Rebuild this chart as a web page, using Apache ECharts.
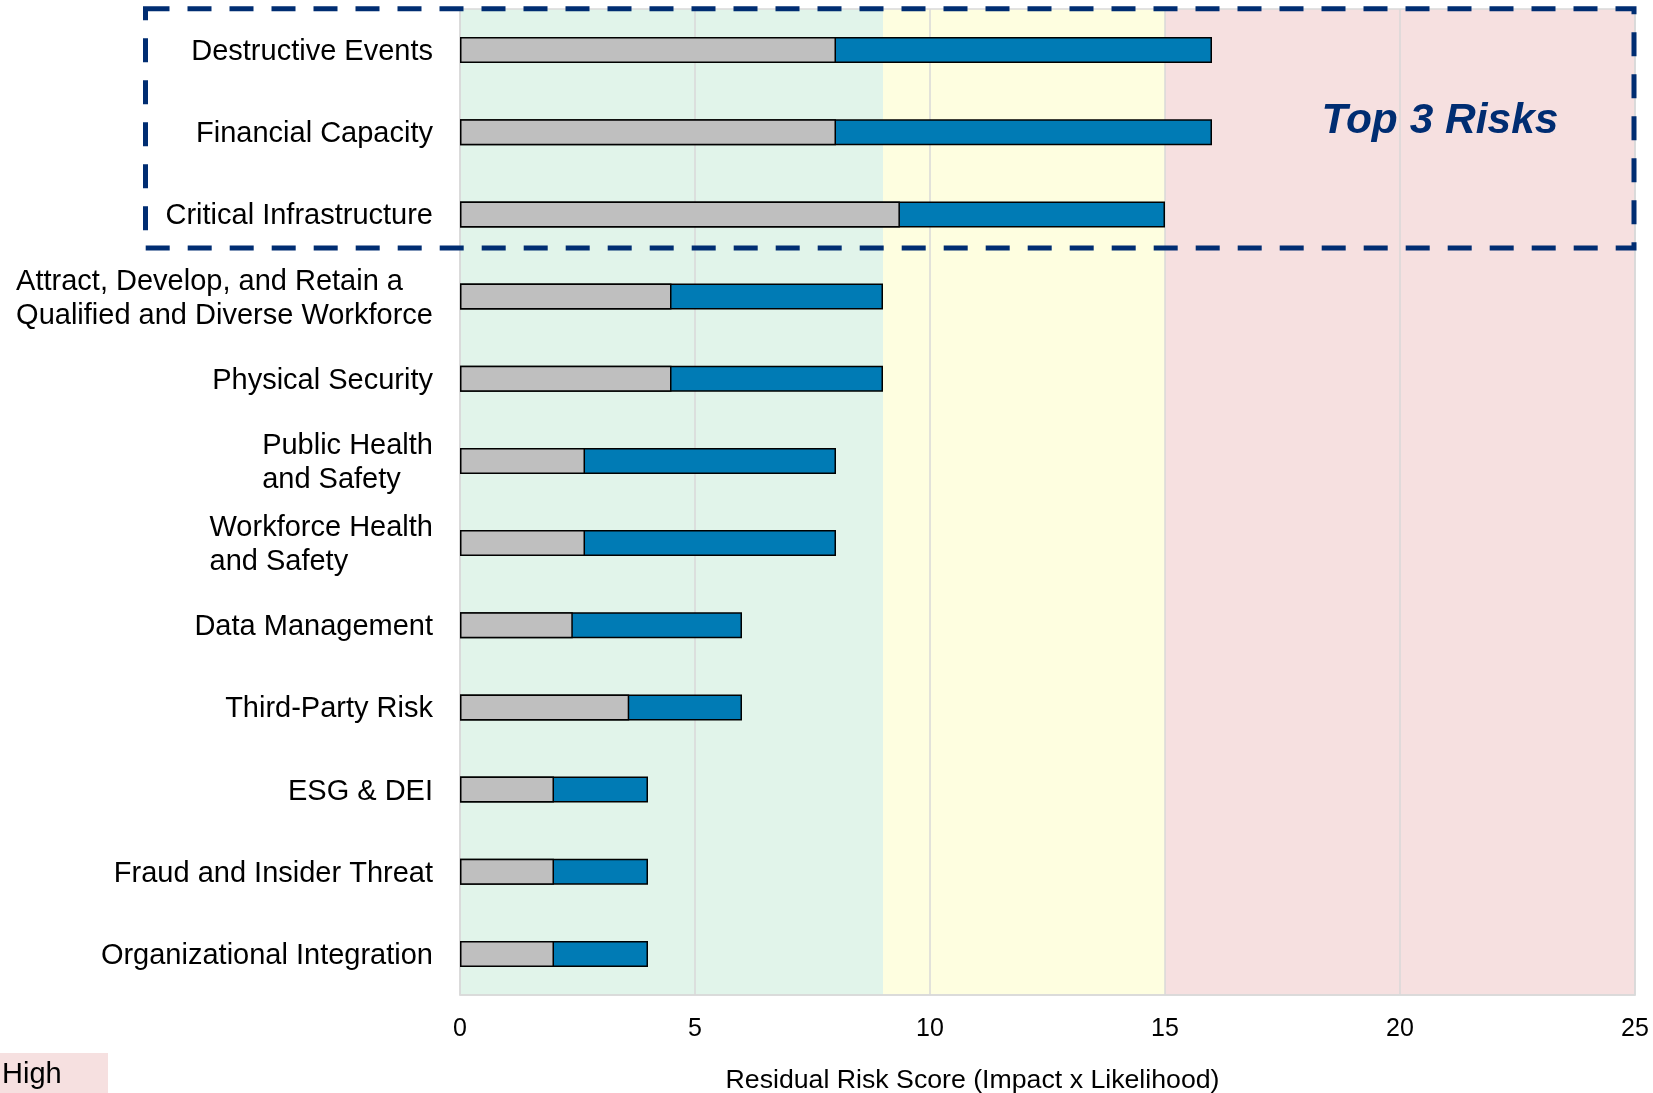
<!DOCTYPE html>
<html>
<head>
<meta charset="utf-8">
<script src="https://cdn.jsdelivr.net/npm/echarts@6/dist/echarts.min.js"></script>
<style>
  html, body { margin: 0; padding: 0; background: #ffffff; }
  #chart { width: 1653px; height: 1093px; }
</style>
</head>
<body>
<div id="chart"></div>
<script>
// Risk categories, top to bottom
const categories = [
  'Destructive Events',
  'Financial Capacity',
  'Critical Infrastructure',
  'Attract, Develop, and Retain a\nQualified and Diverse Workforce',
  'Physical Security',
  'Public Health\nand Safety',
  'Workforce Health\nand Safety',
  'Data Management',
  'Third-Party Risk',
  'ESG & DEI',
  'Fraud and Insider Threat',
  'Organizational Integration'
];

// Residual score (grey) and full score (blue bar end)
const residualScores = [8, 8, 9.36, 4.5, 4.5, 2.66, 2.66, 2.4, 3.6, 2, 2, 2];
const totalScores = [16, 16, 15, 9, 9, 8, 8, 6, 6, 4, 4, 4];

// Score bands: low / moderate / high
const bandEdges = [0, 9, 15, 25];
const bandNames = ['Low', 'Moderate', 'High'];
const bandColors = ['#E1F4EA', '#FEFEE0', '#F6E0E0'];

const FONT = "'Liberation Sans', Arial, sans-serif";
const NAVY = '#002D72';
const GRID_GREY = '#D9D9D9';

const chart = echarts.init(document.getElementById('chart'), null, { renderer: 'canvas' });

const bandAreas = bandNames.map((name, i) => [
  { name: name, xAxis: bandEdges[i], itemStyle: { color: bandColors[i] } },
  { xAxis: bandEdges[i + 1] }
]);

chart.setOption({
  animation: false,
  backgroundColor: '#ffffff',
  grid: {
    left: 460, right: 18, top: 9, bottom: 98, containLabel: false, outerBoundsMode: 'none',
    show: true, z: 1, backgroundColor: 'transparent', borderColor: GRID_GREY, borderWidth: 1.5
  },
  xAxis: {
    type: 'value',
    min: 0,
    max: 25,
    interval: 5,
    z: 1,
    name: 'Residual Risk Score (Impact x Likelihood)',
    nameLocation: 'middle',
    nameGap: 72,
    nameTextStyle: { fontFamily: FONT, fontSize: 26.7, color: '#000', padding: [0, 150, 0, 0] },
    axisLine: { show: true, lineStyle: { color: GRID_GREY, width: 1.5 } },
    axisTick: { show: false },
    axisLabel: { fontFamily: FONT, fontSize: 25, color: '#000', margin: 22 },
    splitLine: { show: true, lineStyle: { color: GRID_GREY, width: 1.5 } }
  },
  yAxis: {
    type: 'category',
    data: categories,
    inverse: true,
    z: 1,
    axisLine: { show: false },
    axisTick: { show: false },
    splitLine: { show: false },
    axisLabel: {
      margin: 27,
      padding: [4, 0, 0, 0],
      formatter: (v) => v.split('\n').map(s => '{l|' + s + '}').join('\n'),
      rich: {
        l: { fontFamily: FONT, fontSize: 29, lineHeight: 34, color: '#000', align: 'left' }
      }
    }
  },
  series: [
    {
      name: 'Total',
      type: 'bar',
      data: totalScores,
      barWidth: 26,
      barGap: '-100%',
      z: 2,
      itemStyle: { color: '#007BB5', borderColor: '#000', borderWidth: 1.5 },
      markArea: { silent: true, z: 0, label: { show: false }, data: bandAreas }
    },
    {
      name: 'Residual',
      type: 'bar',
      data: residualScores,
      barWidth: 26,
      barGap: '-100%',
      z: 3,
      itemStyle: { color: '#BFBFBF', borderColor: '#000', borderWidth: 1.5 }
    }
  ],
  graphic: [
    {
      type: 'rect',
      z: 10,
      shape: { x: 145.5, y: 8.8, width: 1488.5, height: 239.2 },
      style: { fill: 'none', stroke: NAVY, lineWidth: 5, lineDash: [24, 18] }
    },
    {
      type: 'text',
      z: 10,
      x: 1440,
      y: 121,
      style: {
        text: 'Top 3 Risks',
        fontFamily: FONT,
        fontSize: 42.5,
        fontWeight: 'bold',
        fontStyle: 'italic',
        fill: NAVY,
        align: 'center',
        verticalAlign: 'middle'
      }
    },
    {
      type: 'rect',
      z: 10,
      shape: { x: 0, y: 1053, width: 108, height: 40 },
      style: { fill: bandColors[2] }
    },
    {
      type: 'text',
      z: 11,
      x: 2,
      y: 1075,
      style: {
        text: bandNames[2],
        fontFamily: FONT,
        fontSize: 29,
        fill: '#000',
        align: 'left',
        verticalAlign: 'middle'
      }
    }
  ]
});
</script>
</body>
</html>
